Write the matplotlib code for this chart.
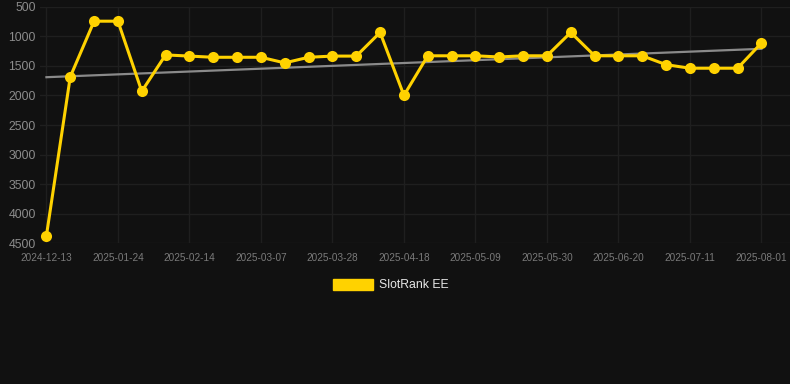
import numpy as np
from matplotlib import pyplot as plt

plt.rcParams['font.family'] = ['Liberation Sans', 'DejaVu Sans']

dates = [
    "2024-12-13", "2025-01-10", "2025-01-17", "2025-01-24", "2025-01-31",
    "2025-02-07", "2025-02-14", "2025-02-21", "2025-02-28", "2025-03-07",
    "2025-03-14", "2025-03-21", "2025-03-28", "2025-04-04", "2025-04-11",
    "2025-04-18", "2025-04-25", "2025-05-02", "2025-05-09", "2025-05-16",
    "2025-05-23", "2025-05-30", "2025-06-06", "2025-06-13", "2025-06-20",
    "2025-06-27", "2025-07-04", "2025-07-11", "2025-07-18", "2025-07-25",
    "2025-08-01",
]
rank = [
    4370, 1685, 745, 745, 1930, 1315, 1335, 1355, 1355, 1355,
    1450, 1355, 1335, 1335, 935, 2000, 1330, 1330, 1330, 1350,
    1330, 1330, 935, 1330, 1330, 1330, 1480, 1540, 1540, 1540,
    1115,
]
trend_start = 1692
trend_end = 1212

bg = "#111111"
gold = "#FFD200"

fig = plt.figure(figsize=(7.9, 3.84), dpi=100, facecolor=bg)
ax = fig.add_axes([40 / 790, 1 - 243.3 / 384, 750 / 790, (243.3 - 6.7) / 384])
ax.set_facecolor(bg)

x = np.arange(len(dates))
ax.plot([x[0], x[-1]], [trend_start, trend_end], color="#8a8a8a", linewidth=1.6, zorder=2)
ax.plot(x, rank, color=gold, linewidth=2.2, marker="o", markersize=8,
        markeredgewidth=0, zorder=3, clip_on=False)

ax.set_ylim(4500, 500)
ax.set_yticks(np.arange(500, 4501, 500))
ax.set_xlim(-0.27, 31.2)
ax.set_xticks(x[::3])
ax.set_xticklabels(dates[::3])

ax.grid(True, color="#1f1f1f", linewidth=1)
ax.set_axisbelow(True)
for s in ax.spines.values():
    s.set_visible(False)
ax.tick_params(axis="y", length=0, pad=3, labelsize=8.8, labelcolor="#8c8c8c")
ax.tick_params(axis="x", length=0, pad=7, labelsize=7.2, labelcolor="#7a7a7a")

fig.patches.append(plt.Rectangle((333 / 790, 1 - 290 / 384), 40 / 790, 11 / 384,
                                 transform=fig.transFigure, color=gold))
fig.text(379 / 790, 1 - 285 / 384, "SlotRank EE", color="#e6e6e6", fontsize=8.8,
         va="center", ha="left")

fig.savefig("out.png", dpi=100, facecolor=bg)
